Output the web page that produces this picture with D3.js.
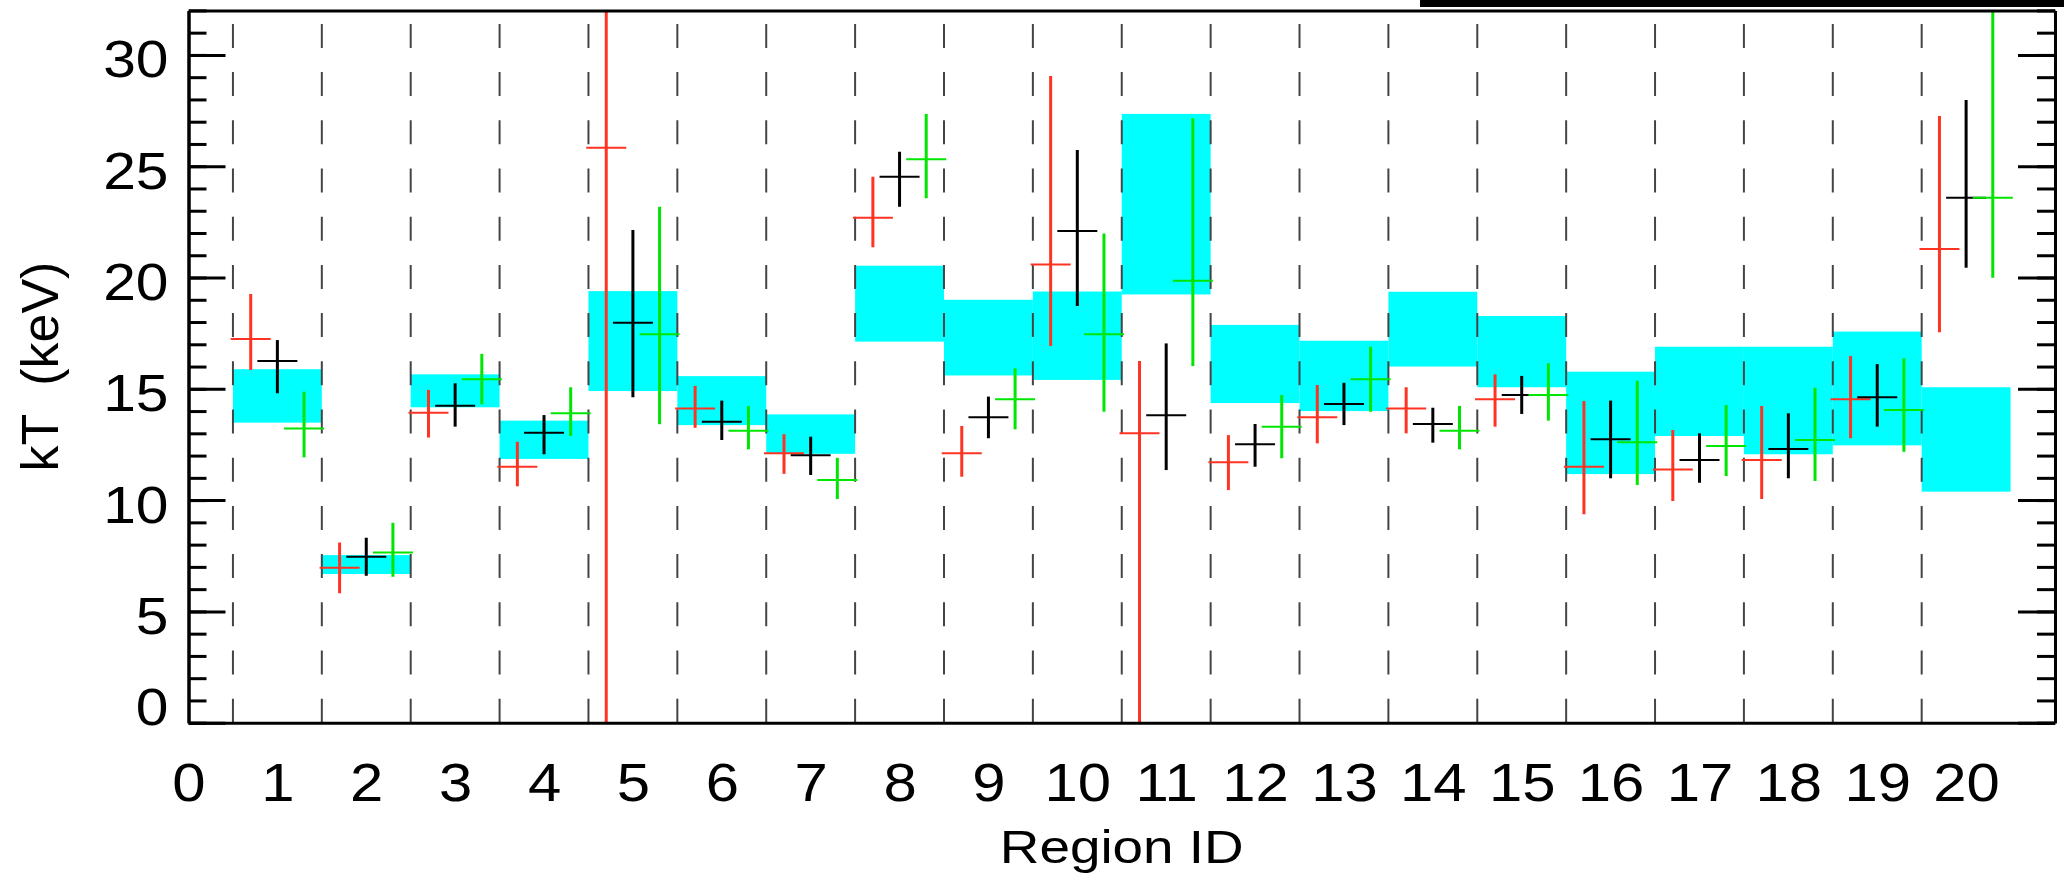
<!DOCTYPE html>
<html>
<head>
<meta charset="utf-8">
<script src="https://cdn.jsdelivr.net/npm/d3@7"></script>
<style>
  html, body { margin: 0; padding: 0; background: #fff; }
  svg { display: block; }
  text { font-family: "Liberation Sans", Arial, Helvetica, sans-serif; fill: #000; }
</style>
</head>
<body>
<svg id="chart" width="2064" height="873"></svg>
<script>
// ---------------- data ----------------
const regions = [1,2,3,4,5,6,7,8,9,10,11,12,13,14,15,16,17,18,19,20];

// cyan band (low / high) per region
const bandLow  = [13.48, 6.68, 14.17, 11.85, 14.90, 13.37, 12.08, 17.12, 15.60, 15.40,
                  19.24, 14.36, 14.00, 16.00, 15.07, 11.17, 12.88, 12.06, 12.46, 10.38];
const bandHigh = [15.88, 7.53, 15.65, 13.57, 19.39, 15.57, 13.85, 20.53, 19.00, 19.37,
                  27.35, 17.87, 17.16, 19.36, 18.27, 15.77, 16.89, 16.89, 17.57, 15.07];

// red series
const redVal  = [17.24, 6.96, 13.92, 11.50, 25.83, 14.12, 12.10, 22.69, 12.10, 20.58,
                 13.00, 11.70, 13.72, 14.12, 14.53, 11.50, 11.38, 11.80, 14.53, 21.28];
const redLow  = [15.85, 5.81, 12.81, 10.62, 0.00, 13.25, 11.18, 21.36, 11.05, 16.92,
                 0.00, 10.45, 12.55, 13.00, 13.30, 9.36, 9.96, 10.05, 12.78, 17.54];
const redHigh = [19.26, 8.09, 14.95, 12.62, 32.00, 15.13, 12.96, 24.53, 13.33, 29.05,
                 16.25, 12.92, 15.17, 15.07, 15.65, 14.45, 13.15, 14.23, 16.47, 27.26];

// black series
const blackVal  = [16.25, 7.46, 14.24, 13.03, 17.97, 13.52, 12.01, 24.53, 13.72, 22.09,
                   13.81, 12.51, 14.32, 13.42, 14.72, 12.73, 11.80, 12.30, 14.62, 23.58];
const blackLow  = [14.80, 6.60, 13.30, 12.06, 14.62, 12.70, 11.13, 23.18, 12.78, 18.72,
                   11.35, 11.50, 13.37, 12.58, 13.87, 10.98, 10.78, 10.98, 13.30, 20.44];
const blackHigh = [17.19, 8.31, 15.25, 13.82, 22.13, 14.47, 12.85, 25.65, 14.65, 25.73,
                   17.04, 13.42, 15.27, 14.15, 15.58, 14.47, 13.00, 13.90, 16.11, 27.97];

// green series
const greenVal  = [13.22, 7.65, 15.43, 13.90, 17.45, 13.12, 10.90, 25.31, 14.53, 17.45,
                   19.86, 13.30, 15.43, 13.12, 14.72, 12.60, 12.43, 12.70, 14.05, 23.58];
const greenLow  = [11.92, 6.56, 14.30, 12.88, 13.41, 12.28, 10.05, 23.56, 13.18, 13.97,
                   16.02, 11.88, 13.97, 12.28, 13.57, 10.68, 11.08, 10.86, 12.17, 19.99];
const greenHigh = [14.87, 8.98, 16.57, 15.07, 23.18, 14.23, 11.90, 27.35, 15.92, 21.98,
                   27.15, 14.72, 16.89, 14.23, 16.15, 15.36, 14.27, 15.05, 16.37, 32.00];

const xTickValues = d3.range(0, 21);          // 0 .. 20
const yMajorTicks = [0, 5, 10, 15, 20, 25, 30];
const yMinorTicks = d3.range(0, 33);          // 0 .. 32
const xTitle = "Region ID";
const yTitle = "kT  (keV)";

// ---------------- layout ----------------
const svg = d3.select("#chart");
const pL = 188.5, pR = 2055, pT = 10.4, pB = 722.7;
const x = d3.scaleLinear().domain([0, 21]).range([pL, pR]);
const y = d3.scaleLinear().domain([0, 32]).range([pB, pT]);

// black strip at top right (part of the original image)
svg.append("rect").attr("x", 1420).attr("y", 0).attr("width", 644).attr("height", 7).attr("fill", "#000");

svg.append("defs").append("clipPath").attr("id", "plotclip")
  .append("rect").attr("x", pL).attr("y", pT).attr("width", pR - pL).attr("height", pB - pT);

const plot = svg.append("g").attr("clip-path", "url(#plotclip)");

// cyan bands
plot.append("g").selectAll("rect").data(regions).join("rect")
  .attr("x", (d) => x(d - 0.5))
  .attr("width", (d) => x(d + 0.5) - x(d - 0.5))
  .attr("y", (d, i) => y(bandHigh[i]))
  .attr("height", (d, i) => y(bandLow[i]) - y(bandHigh[i]))
  .attr("fill", "#00ffff");

// dashed separators (drawn from bottom upward)
plot.append("g").selectAll("line").data(regions).join("line")
  .attr("x1", (d) => x(d - 0.5)).attr("x2", (d) => x(d - 0.5))
  .attr("y1", y(0)).attr("y2", y(32))
  .attr("stroke", "#444").attr("stroke-width", 2)
  .attr("stroke-dasharray", "24,24.2");

// crosses
const series = [
  { val: redVal,   lo: redLow,   hi: redHigh,   color: "#ff3322", dx: -0.3 },
  { val: blackVal, lo: blackLow, hi: blackHigh, color: "#000000", dx: 0 },
  { val: greenVal, lo: greenLow, hi: greenHigh, color: "#00e600", dx: 0.3 }
];
const halfW = 0.225;
series.forEach((s) => {
  const g = plot.append("g");
  g.selectAll("line.v").data(regions).join("line").attr("class", "v")
    .attr("x1", (d) => x(d + s.dx)).attr("x2", (d) => x(d + s.dx))
    .attr("y1", (d, i) => y(s.lo[i])).attr("y2", (d, i) => y(s.hi[i]))
    .attr("stroke", s.color).attr("stroke-width", 3);
  g.selectAll("line.h").data(regions).join("line").attr("class", "h")
    .attr("x1", (d) => x(d + s.dx - halfW)).attr("x2", (d) => x(d + s.dx + halfW))
    .attr("y1", (d, i) => y(s.val[i])).attr("y2", (d, i) => y(s.val[i]))
    .attr("stroke", s.color).attr("stroke-width", 2);
});

// ---------------- axes ----------------
// left axis: major ticks (inward) with labels
const gLeft = svg.append("g").attr("transform", `translate(${pL},0)`)
  .call(d3.axisLeft(y).tickValues(yMajorTicks).tickSizeInner(-37).tickSizeOuter(0).tickPadding(20)
        .tickFormat(d3.format("d")));
gLeft.append("g").call(d3.axisLeft(y).tickValues(yMinorTicks).tickSizeInner(-18).tickSizeOuter(0).tickFormat(""));
gLeft.selectAll("path.domain").attr("stroke", "#000").attr("stroke-width", 3);
gLeft.selectAll(".tick line").attr("stroke", "#000").attr("stroke-width", 3);
gLeft.selectAll(".tick text")
  .attr("font-size", 52)
  .attr("font-family", '"Liberation Sans", Arial, sans-serif')
  .attr("fill", "#000")
  .attr("dy", null)
  .attr("x", null)
  .attr("transform", (d) => `translate(-20,${d === 0 ? 1.5 : 22}) scale(1.13,1)`)
  .attr("text-anchor", "end");

// right axis: ticks only
const gRight = svg.append("g").attr("transform", `translate(${pR},0)`)
  .call(d3.axisRight(y).tickValues(yMajorTicks).tickSizeInner(-37).tickSizeOuter(0).tickFormat(""));
gRight.append("g").call(d3.axisRight(y).tickValues(yMinorTicks).tickSizeInner(-18).tickSizeOuter(0).tickFormat(""));
gRight.selectAll("path.domain").attr("stroke", "#000").attr("stroke-width", 3);
gRight.selectAll(".tick line").attr("stroke", "#000").attr("stroke-width", 3);

// bottom axis: labels only, no ticks
const gBottom = svg.append("g").attr("transform", `translate(0,${pB})`)
  .call(d3.axisBottom(x).tickValues(xTickValues).tickSize(0).tickPadding(0).tickFormat(d3.format("d")));
gBottom.selectAll("path.domain").attr("stroke", "#000").attr("stroke-width", 3);
gBottom.selectAll(".tick text")
  .attr("font-size", 53)
  .attr("font-family", '"Liberation Sans", Arial, sans-serif')
  .attr("fill", "#000")
  .attr("dy", null)
  .attr("y", null)
  .attr("transform", "translate(0,78) scale(1.13,1)")
  .attr("text-anchor", "middle");

// top border
svg.append("g").attr("transform", `translate(0,${pT})`)
  .call(d3.axisTop(x).tickValues([]).tickSizeOuter(0))
  .selectAll("path.domain").attr("stroke", "#000").attr("stroke-width", 3);

// titles
svg.append("text")
  .attr("transform", `translate(${x(10.5)},863) scale(1.18,1)`)
  .attr("text-anchor", "middle").attr("font-size", 46.5)
  .text(xTitle);

svg.append("text")
  .attr("transform", `translate(58,${(pT + pB) / 2}) rotate(-90)`)
  .attr("text-anchor", "middle").attr("font-size", 52)
  .attr("xml:space", "preserve").style("white-space", "pre")
  .text(yTitle);
</script>
</body>
</html>
